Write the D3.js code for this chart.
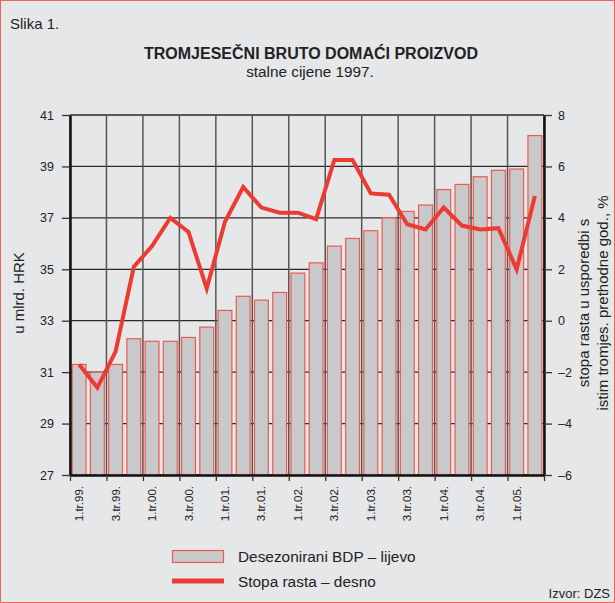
<!DOCTYPE html>
<html>
<head>
<meta charset="utf-8">
<script src="https://cdn.jsdelivr.net/npm/d3@7"></script>
<style>
  html, body { margin: 0; padding: 0; background: #e6e7e8; }
  svg { display: block; font-family: "Liberation Sans", Arial, sans-serif; }
</style>
</head>
<body>
<div id="chart"></div>
<script>
// quarters 1.tr.99 .. 2.tr.05
const quarters = [
  "1.tr.99.", "2.tr.99.", "3.tr.99.", "4.tr.99.",
  "1.tr.00.", "2.tr.00.", "3.tr.00.", "4.tr.00.",
  "1.tr.01.", "2.tr.01.", "3.tr.01.", "4.tr.01.",
  "1.tr.02.", "2.tr.02.", "3.tr.02.", "4.tr.02.",
  "1.tr.03.", "2.tr.03.", "3.tr.03.", "4.tr.03.",
  "1.tr.04.", "2.tr.04.", "3.tr.04.", "4.tr.04.",
  "1.tr.05.", "2.tr.05."
];
// labels shown on the x axis
const shownLabels = [
  "1.tr.99.", "3.tr.99.", "1.tr.00.", "3.tr.00.", "1.tr.01.", "3.tr.01.",
  "1.tr.02.", "3.tr.02.", "1.tr.03.", "3.tr.03.", "1.tr.04.", "3.tr.04.", "1.tr.05."
];
// desezonirani BDP, mlrd. HRK (left axis)
const gdp = [
  31.3, 31.0, 31.3, 32.3, 32.2, 32.2, 32.35, 32.75,
  33.4, 33.95, 33.8, 34.1, 34.85, 35.25, 35.9, 36.2,
  36.5, 37.0, 37.25, 37.5, 38.1, 38.3, 38.6, 38.85,
  38.9, 40.2
];
// stopa rasta, % (right axis)
const growth = [
  -1.7, -2.6, -1.2, 2.1, 2.9, 4.0, 3.45, 1.25,
  3.85, 5.2, 4.4, 4.2, 4.2, 3.95, 6.25, 6.25,
  4.95, 4.9, 3.75, 3.55, 4.4, 3.7, 3.55, 3.6,
  2.0, 4.85
];
const leftTicks = [27, 29, 31, 33, 35, 37, 39, 41];
const rightTicks = [-6, -4, -2, 0, 2, 4, 6, 8];

const W = 615, H = 603;
const plot = { left: 70, right: 544, top: 115, bottom: 475 };
const red = "#ec3b30";

const svg = d3.select("#chart").append("svg")
  .attr("width", W).attr("height", H);

// background + frame
svg.append("rect")
  .attr("x", 0.5).attr("y", 0.5).attr("width", W - 1).attr("height", H - 1)
  .attr("fill", "#e6e7e8").attr("stroke", "#e9665d").attr("stroke-width", 1);

// scales
const x = d3.scaleBand().domain(quarters).range([plot.left, plot.right]);
const xEdge = d3.scaleLinear().domain([0, quarters.length]).range([plot.left, plot.right]);
const yL = d3.scaleLinear().domain([27, 41]).range([plot.bottom, plot.top]);
const yR = d3.scaleLinear().domain([-6, 8]).range([plot.bottom, plot.top]);

const edgeTicks = d3.range(0, quarters.length + 1, 2);

// grid
const grid = svg.append("g");
grid.selectAll("line.h").data(leftTicks).join("line")
  .attr("x1", plot.left).attr("x2", plot.right)
  .attr("y1", d => yL(d)).attr("y2", d => yL(d))
  .attr("stroke", "#2a2a2a").attr("stroke-width", 1.3);
grid.selectAll("line.v").data(edgeTicks).join("line")
  .attr("x1", d => xEdge(d)).attr("x2", d => xEdge(d))
  .attr("y1", plot.top).attr("y2", plot.bottom)
  .attr("stroke", "#555").attr("stroke-width", 1.5);

// bars
const barPad = 0.12;
svg.append("g").selectAll("rect").data(gdp).join("rect")
  .attr("x", (d, i) => x(quarters[i]) + x.bandwidth() * barPad)
  .attr("width", x.bandwidth() * (1 - 2 * barPad))
  .attr("y", d => yL(d))
  .attr("height", d => yL(27) - yL(d))
  .attr("fill", "#c8c9cb")
  .attr("stroke", "#ef5a50").attr("stroke-width", 1.2);

// axes
const axisStyle = g => {
  g.select(".domain").attr("stroke", "#111").attr("stroke-width", 2.5);
  g.selectAll(".tick line").attr("stroke", "#333").attr("stroke-width", 1.3);
  g.selectAll(".tick text").attr("fill", "#222").attr("font-size", 12.5)
    .attr("font-family", "'Liberation Sans', Arial, sans-serif");
};

svg.append("g")
  .attr("transform", `translate(${plot.left},0)`)
  .call(d3.axisLeft(yL).tickValues(leftTicks).tickSize(8).tickSizeOuter(0).tickPadding(8))
  .call(axisStyle);

svg.append("g")
  .attr("transform", `translate(${plot.right},0)`)
  .call(d3.axisRight(yR).tickValues(rightTicks).tickSize(8).tickSizeOuter(0).tickPadding(6)
    .tickFormat(d => d < 0 ? "\u2013" + Math.abs(d) : d))
  .call(axisStyle);

svg.append("g")
  .attr("transform", `translate(0,${plot.bottom})`)
  .call(d3.axisBottom(xEdge).tickValues(edgeTicks).tickSize(6).tickSizeOuter(0).tickFormat(""))
  .call(axisStyle);

// x labels
svg.append("g").selectAll("text").data(shownLabels).join("text")
  .attr("transform", d => `translate(${x(d) + x.bandwidth() / 2 + 4},486) rotate(-90)`)
  .attr("text-anchor", "end")
  .attr("font-size", 11.5).attr("fill", "#222")
  .text(d => d);

// growth line
const line = d3.line()
  .x((d, i) => x(quarters[i]) + x.bandwidth() / 2)
  .y(d => yR(d));
svg.append("path").datum(growth)
  .attr("d", line)
  .attr("fill", "none").attr("stroke", red)
  .attr("stroke-width", 4).attr("stroke-linejoin", "miter");

// texts
svg.append("text").attr("x", 10).attr("y", 29)
  .attr("font-size", 15).attr("fill", "#222").text("Slika 1.");
svg.append("text").attr("x", 311).attr("y", 59)
  .attr("text-anchor", "middle").attr("font-size", 16).attr("font-weight", "bold")
  .attr("fill", "#222").text("TROMJESEČNI BRUTO DOMAĆI PROIZVOD");
svg.append("text").attr("x", 310).attr("y", 77)
  .attr("text-anchor", "middle").attr("font-size", 15.3)
  .attr("fill", "#222").text("stalne cijene 1997.");

svg.append("text")
  .attr("transform", "translate(24,293) rotate(-90)")
  .attr("text-anchor", "middle").attr("font-size", 15).attr("fill", "#222")
  .text("u mlrd. HRK");
svg.append("text")
  .attr("transform", "translate(589,303) rotate(-90)")
  .attr("text-anchor", "middle").attr("font-size", 15).attr("fill", "#222")
  .text("stopa rasta u usporedbi s");
svg.append("text")
  .attr("transform", "translate(608,303) rotate(-90)")
  .attr("text-anchor", "middle").attr("font-size", 15).attr("fill", "#222")
  .text("istim tromjes. prethodne god., %");

// legend
const legend = svg.append("g");
legend.append("rect")
  .attr("x", 172.5).attr("y", 550.5).attr("width", 51).attr("height", 12)
  .attr("fill", "#c8c9cb").attr("stroke", "#ef5a50").attr("stroke-width", 1.2);
legend.append("line")
  .attr("x1", 172).attr("x2", 224).attr("y1", 581).attr("y2", 581)
  .attr("stroke", red).attr("stroke-width", 5);
legend.append("text").attr("x", 238).attr("y", 562)
  .attr("font-size", 15.4).attr("fill", "#222").text("Desezonirani BDP \u2013 lijevo");
legend.append("text").attr("x", 238).attr("y", 587)
  .attr("font-size", 15.4).attr("fill", "#222").text("Stopa rasta \u2013 desno");

svg.append("text").attr("x", 610).attr("y", 598)
  .attr("text-anchor", "end").attr("font-size", 13).attr("fill", "#222")
  .text("Izvor: DZS");
</script>
</body>
</html>
